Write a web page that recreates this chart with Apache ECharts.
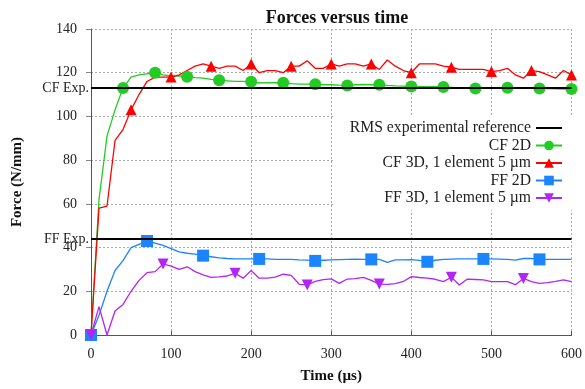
<!DOCTYPE html>
<html lang="en">
<head>
    <meta charset="UTF-8">
    <title>Forces versus time</title>
    <script src="https://cdn.jsdelivr.net/npm/echarts@6/dist/echarts.min.js"></script>
</head>
<body style="margin:0">
<div id="chart" style="width:585px;height:389px"></div>

<script>
    // time samples, every 10 µs
    const times = [0,10,20,30,40,50,60,70,80,90,100,110,120,130,140,150,160,170,180,190,200,210,220,230,240,250,260,270,280,290,300,310,320,330,340,350,360,370,380,390,400,410,420,430,440,450,460,470,480,490,500,510,520,530,540,550,560,570,580,590,600];

    const cf2d = [0,62,91,103,113,118,119,119.5,120,119,118.5,118.5,118.2,117.8,117.5,117,116.6,116.3,116,116,115.9,115.3,115.5,115.4,115.4,115,114.8,114.8,114.7,114.5,114.5,114.3,114.2,114.5,114.6,114.5,114.5,114.2,114,113.9,113.7,113.6,113.6,113.6,113.5,113.3,113,112.8,112.8,112.9,113,113.1,113.1,112.9,112.8,113,112.8,112.7,112.6,112.5,112.5];

    const cf3d = [0,58,59,89,94,103,110,116,118,118,118,119,121,123,124,123,122,123,123,121,124,120,121,121,120,123,123,125.5,122,122,124,123,124,124,123,124,121.5,125.8,123,121,120,124,124,124,123,122.5,121.5,121.5,121.5,121.5,120.5,121,122,119,117.5,121,120.5,119,117.5,121,119];

    const ff2d = [0,9,20,29.5,34,40,41.5,43,42,41,39.5,38,37.4,37,36.3,35.8,35.3,35,34.8,34.8,34.8,34.8,34.8,34.6,34.6,34.6,34.4,34.3,33.9,34.2,34.4,34.5,34.6,34.7,34.6,34.6,34.6,33.2,34.4,34.4,34.5,34.1,33.5,34.2,34.6,34.7,34.8,34.8,34.8,34.8,34.8,34.7,34.6,34.3,35,35,34.6,34.6,34.6,34.6,34.6];

    const ff3d = [0,13,0,11,14,20,25,28.5,29,32.5,31.5,30,31.2,29,27.5,26.4,26.6,27,28.2,26,29.5,26,26,26.5,27.8,27.3,23.2,22.9,24.5,25.3,25.7,23.6,25.6,25.8,26.4,25,23.3,23.2,23.5,24.5,26.7,26.3,26,25.5,24.4,26.4,22.9,25.6,25.4,25.2,24.4,24.4,24.4,23,25.9,24.4,23.6,24,24.5,25.2,24.4];

    const cfExp = 113;
    const ffExp = 44;

    const serif = 'Liberation Serif';

    function pairs(vals) {
        return times.map((t, i) => [t, vals[i]]);
    }

    // marker on every n-th sample
    function every(n, size) {
        return (v, p) => (p.dataIndex % n === 0 ? size : 0);
    }

    function curve(name, vals, color, symbol, n, size, rotate) {
        return {
            name: name,
            type: 'line',
            data: pairs(vals),
            symbol: symbol,
            symbolRotate: rotate || 0,
            symbolSize: every(n, size),
            showSymbol: true,
            lineStyle: {color: color, width: 1.3},
            itemStyle: {color: color},
            emphasis: {disabled: true},
            animation: false
        };
    }

    let myChart = echarts.init(document.getElementById('chart'));

    let option = {
        backgroundColor: '#fff',
        title: {
            text: 'Forces versus time',
            left: 332,
            top: 4,
            textAlign: 'center',
            textStyle: {fontFamily: serif, fontSize: 18, fontWeight: 'bold', color: '#111'}
        },
        grid: {left: 91, right: 12, top: 29, bottom: 54},
        legend: {
            orient: 'vertical',
            right: 12,
            top: 116,
            align: 'right',
            itemWidth: 26,
            itemHeight: 12,
            itemGap: 1.5,
            backgroundColor: '#fff',
            padding: [4, 10, 4, 15],
            textStyle: {fontFamily: serif, fontSize: 15.7, lineHeight: 15, color: '#222'},
            data: [
                {name: 'RMS experimental reference', itemStyle: {opacity: 0}},
                'CF 2D', 'CF 3D, 1 element 5 µm', 'FF 2D', 'FF 3D, 1 element 5 µm'
            ]
        },
        xAxis: {
            type: 'value',
            min: 0,
            max: 600,
            interval: 100,
            name: 'Time (µs)',
            nameLocation: 'middle',
            nameGap: 34,
            nameTextStyle: {fontFamily: serif, fontSize: 15, fontWeight: 'bold', color: '#111'},
            axisLine: {lineStyle: {color: '#555'}},
            axisTick: {inside: true, length: 4, lineStyle: {color: '#555'}},
            axisLabel: {fontFamily: serif, fontSize: 14, color: '#222', margin: 12},
            splitLine: {lineStyle: {color: '#aaa', type: [2, 2]}}
        },
        yAxis: {
            type: 'value',
            min: 0,
            max: 140,
            interval: 20,
            name: 'Force (N/mm)',
            nameLocation: 'middle',
            nameGap: 66,
            nameTextStyle: {fontFamily: serif, fontSize: 15, fontWeight: 'bold', color: '#111'},
            axisLine: {show: true, lineStyle: {color: '#555'}},
            axisTick: {show: true, length: 5, lineStyle: {color: '#888'}},
            axisLabel: {fontFamily: serif, fontSize: 14, color: '#222', margin: 14},
            splitLine: {lineStyle: {color: '#aaa', type: [2, 2]}}
        },
        series: [
            {
                name: 'RMS experimental reference',
                type: 'line',
                data: [],
                symbol: 'none',
                lineStyle: {color: '#000', width: 2},
                itemStyle: {color: '#000'},
                animation: false,
                markLine: {
                    silent: true,
                    symbol: 'none',
                    lineStyle: {color: '#000', width: 2, type: 'solid'},
                    label: {
                        position: 'start',
                        distance: 2,
                        fontFamily: serif,
                        fontSize: 14,
                        color: '#222'
                    },
                    data: [
                        {yAxis: cfExp, label: {formatter: 'CF Exp.'}},
                        {yAxis: ffExp, label: {formatter: 'FF Exp.'}}
                    ]
                }
            },
            curve('CF 2D', cf2d, '#22cc22', 'circle', 4, 12),
            curve('CF 3D, 1 element 5 µm', cf3d, '#ff0000', 'triangle', 5, 11),
            curve('FF 2D', ff2d, '#1a85ff', 'rect', 7, 12),
            curve('FF 3D, 1 element 5 µm', ff3d, '#b225f2', 'triangle', 9, 11, 180)
        ]
    };

    myChart.setOption(option);
</script>
</body>
</html>
